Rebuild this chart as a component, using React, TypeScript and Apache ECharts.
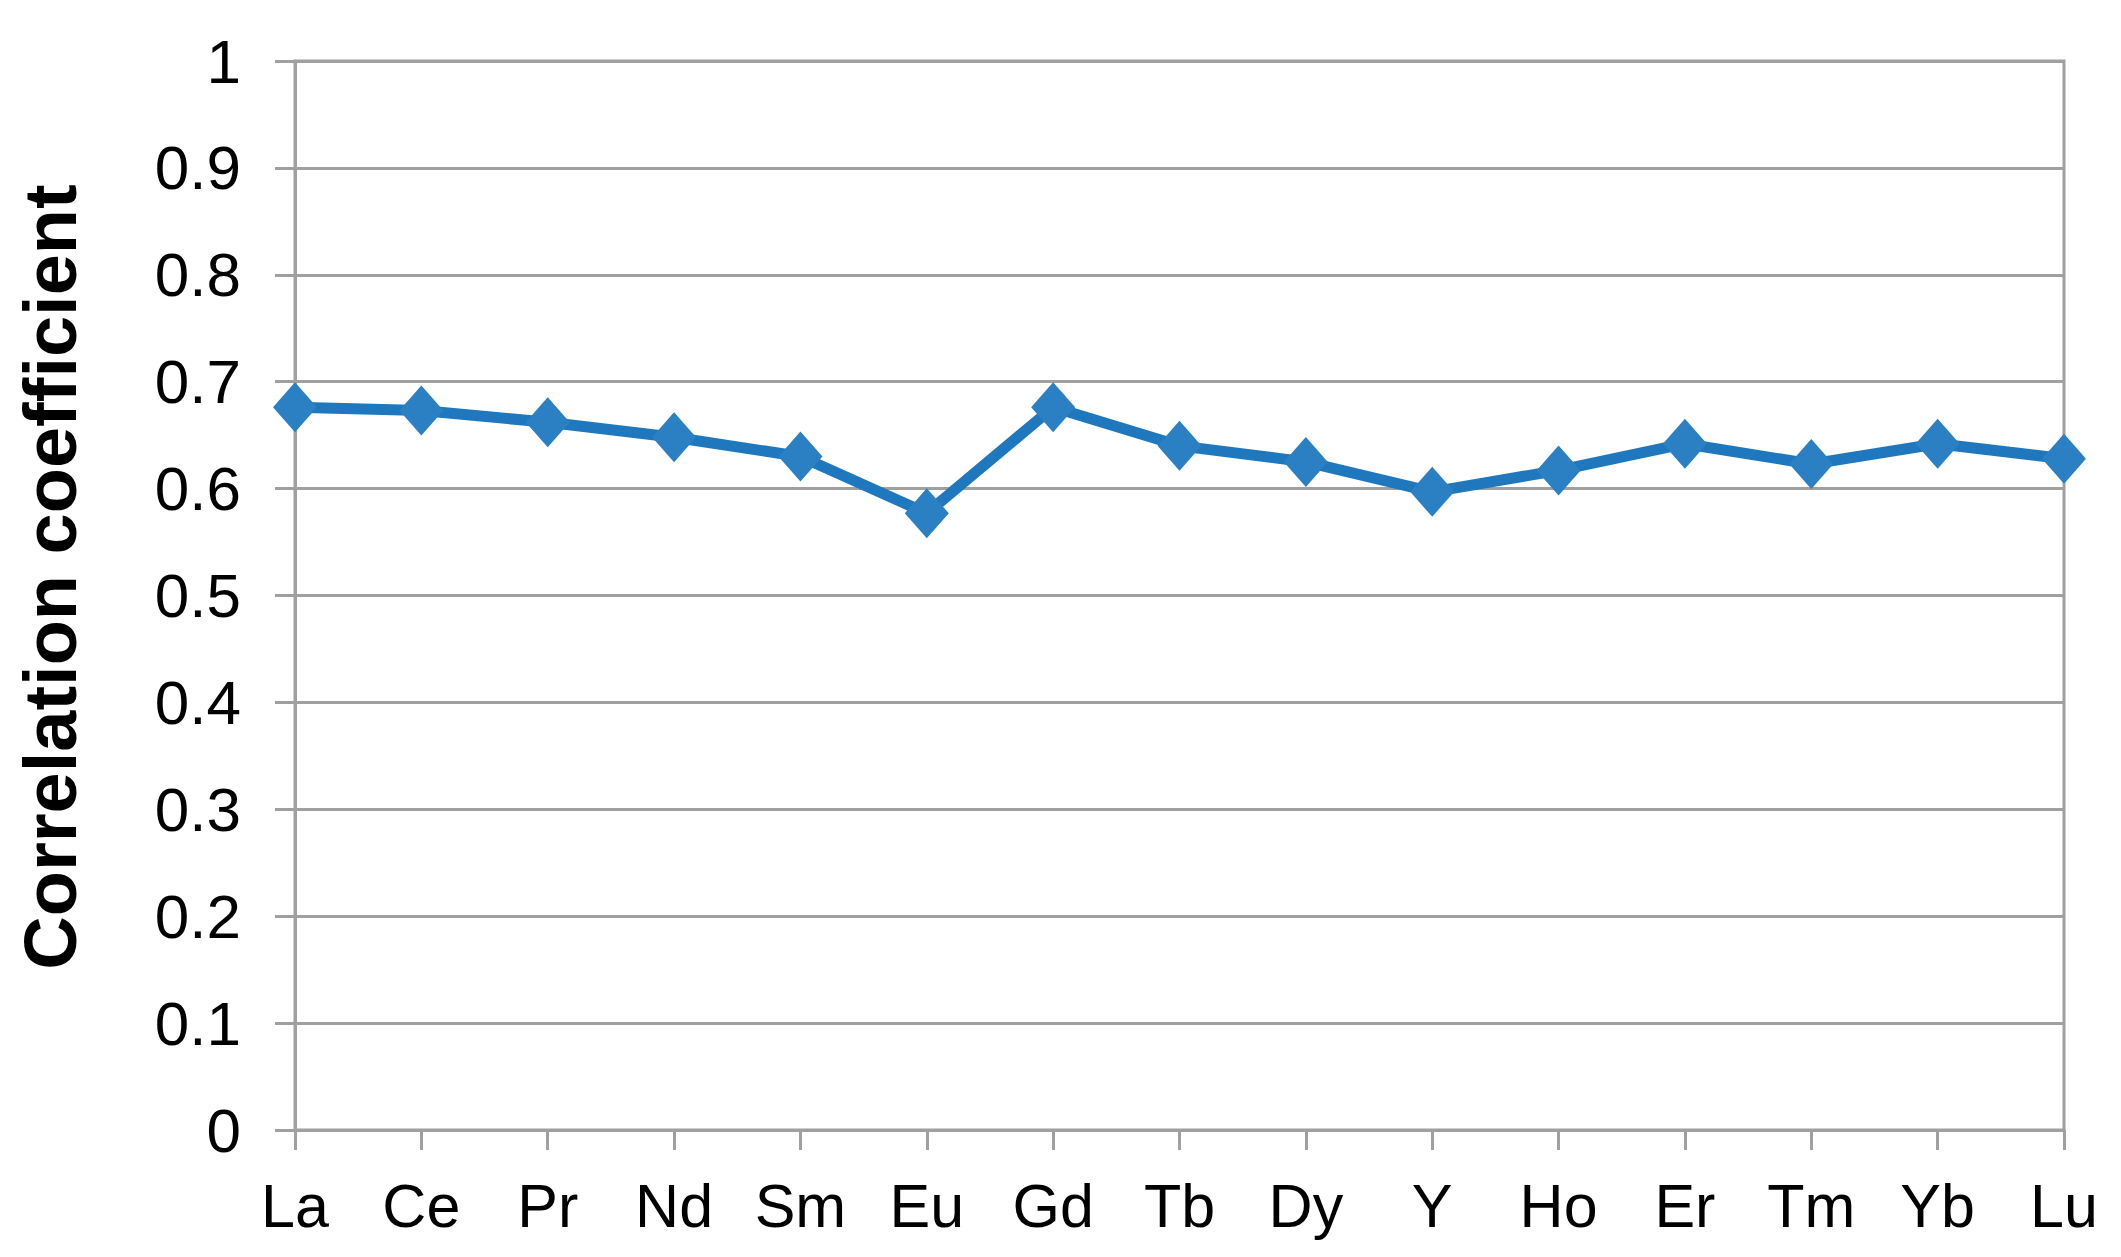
import React, { useEffect, useRef } from "react";
import * as echarts from "echarts";

const categories = ["La", "Ce", "Pr", "Nd", "Sm", "Eu", "Gd", "Tb", "Dy", "Y", "Ho", "Er", "Tm", "Yb", "Lu"];
const correlation = [0.676, 0.673, 0.662, 0.648, 0.630, 0.577, 0.676, 0.640, 0.625, 0.597, 0.617, 0.642, 0.623, 0.642, 0.628];
const yTicks = [0, 0.1, 0.2, 0.3, 0.4, 0.5, 0.6, 0.7, 0.8, 0.9, 1];
const yTitle = "Correlation coefficient";

export default function App() {
  const ref = useRef<HTMLDivElement>(null);
  useEffect(() => {
    document.body.style.margin = "0";
    const chart = echarts.init(ref.current!, undefined, { renderer: "svg" });
    const gray = "#a0a0a0";
    chart.setOption({
      animation: false,
      backgroundColor: "#ffffff",
      grid: {
        left: 295,
        right: 57,
        top: 61,
        bottom: 127,
        show: true,
        borderColor: gray,
        borderWidth: 3,
      },
      xAxis: {
        type: "category",
        data: categories,
        boundaryGap: false,
        axisLine: { lineStyle: { color: gray, width: 3 } },
        axisTick: { show: true, length: 20, alignWithLabel: true, lineStyle: { color: gray, width: 3 } },
        axisLabel: {
          color: "#000",
          fontFamily: "Liberation Sans, Arial, sans-serif",
          fontSize: 61,
          margin: 45,
        },
        splitLine: { show: false },
      },
      yAxis: {
        type: "value",
        min: 0,
        max: 1,
        interval: 0.1,
        axisLine: { show: true, lineStyle: { color: gray, width: 3 } },
        axisTick: { show: true, length: 20, lineStyle: { color: gray, width: 3 } },
        axisLabel: {
          color: "#000",
          fontFamily: "Liberation Sans, Arial, sans-serif",
          fontSize: 62,
          margin: 54,
          formatter: (v: number) => {
            const t = yTicks.find((x) => Math.abs(x - v) < 1e-9);
            return t === undefined ? "" : String(t);
          },
        },
        splitLine: { show: true, lineStyle: { color: gray, width: 3 } },
      },
      graphic: [
        {
          type: "text",
          x: 50,
          y: 577,
          rotation: Math.PI / 2,
          style: {
            text: yTitle,
            fontFamily: "Liberation Sans, Arial, sans-serif",
            fontWeight: "bold",
            fontSize: 74,
            fill: "#000",
            textAlign: "center",
            textVerticalAlign: "middle",
          },
        },
      ],
      series: [
        {
          type: "line",
          data: correlation,
          symbol: "diamond",
          symbolSize: [44, 50],
          lineStyle: { color: "#1f78bd", width: 11 },
          itemStyle: { color: "#2a80c2" },
          z: 5,
        },
      ],
    });
    return () => chart.dispose();
  }, []);
  return <div ref={ref} style={{ position: "fixed", left: 0, top: 0, width: 2121, height: 1257 }} />;
}
